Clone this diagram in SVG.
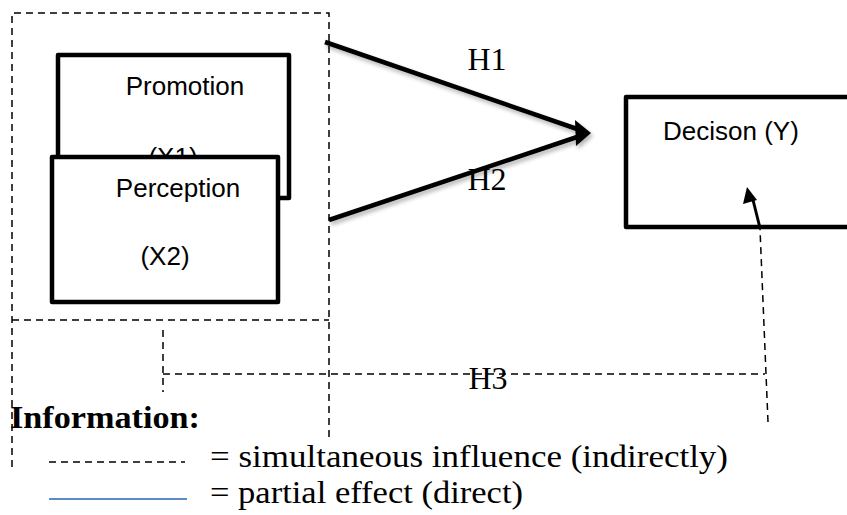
<svg xmlns="http://www.w3.org/2000/svg" width="847" height="515" viewBox="0 0 847 515">
<style>
.box{fill:#fff;stroke:#000;stroke-width:4.5;stroke-linejoin:round}
.lbl{font-family:"Liberation Sans",Arial,sans-serif;font-size:26px;fill:#000}
.ser{font-family:"Liberation Serif","Times New Roman",serif;font-size:32px;fill:#000}
.dash{fill:none;stroke:#000;stroke-width:1.5;stroke-dasharray:7 5}
.thick{stroke:#000;stroke-width:4.5;fill:none}
</style>
<defs>
<filter id="sh" x="-10%" y="-30%" width="120%" height="160%">
<feGaussianBlur in="SourceAlpha" stdDeviation="2"/>
<feOffset dx="2" dy="3" result="b"/>
<feComponentTransfer><feFuncA type="linear" slope="0.3"/></feComponentTransfer>
<feMerge><feMergeNode/><feMergeNode in="SourceGraphic"/></feMerge>
</filter>
</defs>
<rect width="847" height="515" fill="#fff"/>

<g id="frames">
<path class="dash" d="M12,467 V13 H329 V440"/>
<path class="dash" d="M12,320 H329"/>
</g>

<g id="promotion">
<rect class="box" x="58" y="55" width="231" height="143"/>
<text class="lbl" x="185" y="95" text-anchor="middle">Promotion</text>
<text class="lbl" x="173" y="166" text-anchor="middle">(X1)</text>
</g>

<g id="perception">
<rect class="box" x="52" y="157" width="226" height="145"/>
<text class="lbl" x="178" y="197" text-anchor="middle">Perception</text>
<text class="lbl" x="165" y="265" text-anchor="middle">(X2)</text>
</g>

<g id="decision">
<rect class="box" x="626" y="97" width="240" height="130"/>
<text class="lbl" x="663" y="140">Decison (Y)</text>
</g>

<g id="connectors">
<g filter="url(#sh)">
<line class="thick" x1="325" y1="42" x2="580" y2="130"/>
<line class="thick" x1="329" y1="220" x2="580" y2="136"/>
<polygon points="591,133 575,120 576,146" fill="#000"/>
</g>
<path class="dash" d="M163,330 V392"/>
<path class="dash" d="M163,374 H765"/>
<path class="dash" d="M768,422 L760,229"/>
<line x1="760" y1="228" x2="753" y2="200" stroke="#000" stroke-width="3"/>
<polygon points="747,187 743,204 757,200" fill="#000"/>
<text class="ser" x="487" y="70" text-anchor="middle">H1</text>
<text class="ser" x="487" y="190" text-anchor="middle">H2</text>
<text class="ser" x="488" y="389" text-anchor="middle">H3</text>
</g>

<g id="legend">
<text class="ser" x="10" y="428" font-weight="bold" textLength="190" lengthAdjust="spacingAndGlyphs">Information:</text>
<line class="dash" x1="49" y1="462" x2="185" y2="462"/>
<text class="ser" x="210" y="467" textLength="518" lengthAdjust="spacingAndGlyphs">= simultaneous influence (indirectly)</text>
<line x1="49" y1="499" x2="187" y2="499" stroke="#5b8ac6" stroke-width="1.8"/>
<text class="ser" x="210" y="503" textLength="313" lengthAdjust="spacingAndGlyphs">= partial effect (direct)</text>
</g>
</svg>
